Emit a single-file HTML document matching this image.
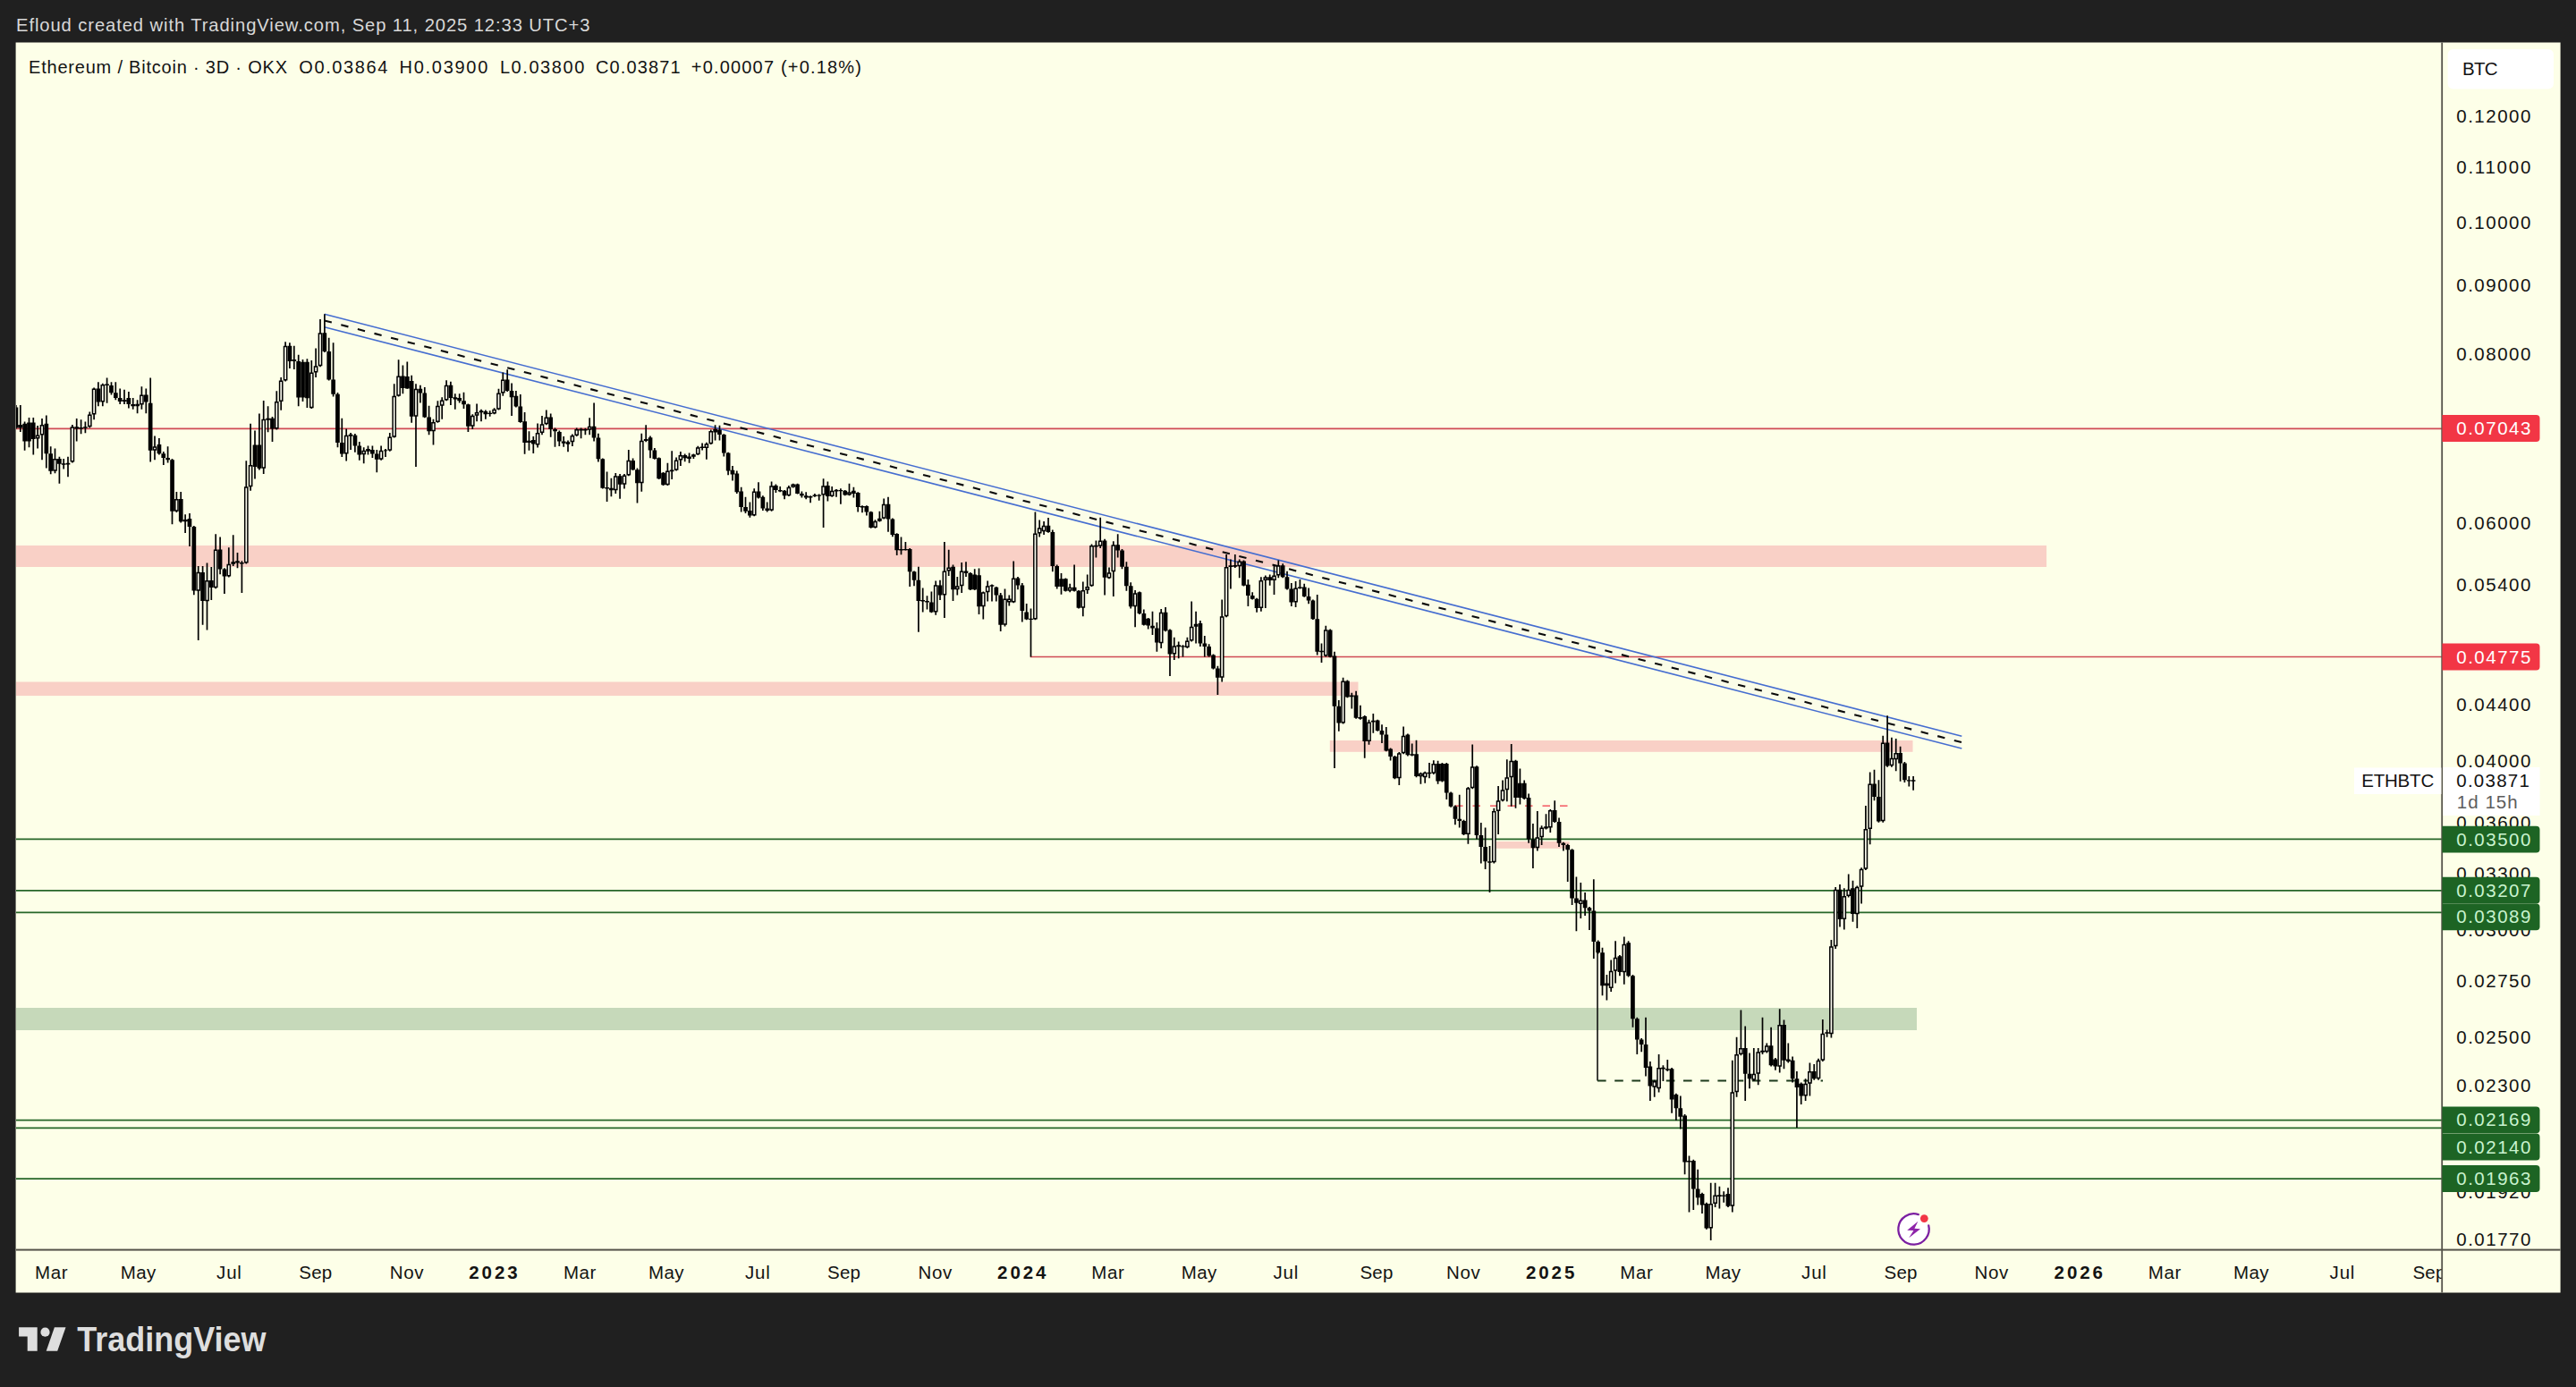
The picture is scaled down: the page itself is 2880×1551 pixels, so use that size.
<!DOCTYPE html>
<html><head><meta charset="utf-8"><title>ETHBTC chart</title>
<style>
html,body{margin:0;padding:0;background:#202020;}
body{width:2880px;height:1551px;overflow:hidden;position:relative;font-family:"Liberation Sans",sans-serif;}
svg{position:absolute;left:0;top:0;display:block}
text{font-family:"Liberation Sans",sans-serif;}
</style></head><body>
<svg width="2880" height="1551" viewBox="0 0 2880 1551">
<rect x="0" y="0" width="2880" height="1551" fill="#202020"/>
<rect x="17.6" y="47.5" width="2845" height="1398" fill="#fdffe8"/>
<defs><clipPath id="pane"><rect x="18" y="48" width="2712" height="1349.5"/></clipPath>
<clipPath id="taxis"><rect x="18" y="1398" width="2712" height="48"/></clipPath></defs>
<g clip-path="url(#pane)">
<rect x="18" y="610" width="2270" height="24" fill="#f9d0c6"/>
<rect x="18" y="762.5" width="1500.5" height="15.5" fill="#f9d0c6"/>
<rect x="1486.8" y="828" width="651.7" height="12.8" fill="#f9d0c6"/>
<rect x="1672.5" y="941" width="82.2" height="7.8" fill="#f9d0c6"/>
<rect x="18" y="1127" width="2125" height="25" fill="#c6d9ba"/>
<path d="M18 479.3H2731" stroke="#d04a54" stroke-width="1.7" fill="none"/>
<path d="M1151.8 734.5H2731" stroke="#d04a54" stroke-width="1.7" fill="none"/>
<path d="M18 938.4H2731" stroke="#266628" stroke-width="1.8" fill="none"/>
<path d="M18 995.8H2731" stroke="#266628" stroke-width="1.8" fill="none"/>
<path d="M18 1020.4H2731" stroke="#266628" stroke-width="1.8" fill="none"/>
<path d="M18 1252.6H2731" stroke="#266628" stroke-width="1.8" fill="none"/>
<path d="M18 1261.4H2731" stroke="#266628" stroke-width="1.8" fill="none"/>
<path d="M18 1318.1H2731" stroke="#266628" stroke-width="1.8" fill="none"/>
<path d="M1627 901.2H1757" stroke="#f23645" stroke-width="1.3" stroke-dasharray="8.5 11" fill="none"/>
<path d="M1786 1055.6V1208.5" stroke="#101010" stroke-width="1.6" fill="none"/>
<path d="M1786 1208.5H2038" stroke="#1c3a1c" stroke-width="1.8" stroke-dasharray="9.6 9.6" fill="none"/>
<path d="M362.7 351.3L2193.3 823.2V837L362.7 365.7Z" fill="rgba(120,140,255,0.025)"/>
<path d="M362.7 351.3L2193.3 823.2M362.7 365.7L2193.3 837" stroke="#456dd0" stroke-width="1.6" fill="none"/>
<path d="M362.7 358.5L2193.3 830.1" stroke="#0a0a0a" stroke-width="2.1" stroke-dasharray="8.4 10.8" fill="none"/>
<path d="M17.9 453.0V479.6M22.8 453.0V483.0M27.6 471.5V503.8M32.5 466.9V500.3M37.3 466.9V508.4M42.1 476.1V501.5M47.0 468.0V514.2M51.8 464.6V523.4M56.7 499.2V530.3M61.5 501.5V529.2M66.4 510.7V540.7M71.2 513.0V524.5M76.0 510.7V533.3M80.9 475.0V517.6M85.7 468.0V493.4M90.6 469.2V485.3M95.4 471.5V484.2M100.3 460.4V478.4M105.1 433.4V469.2M109.9 427.2V454.2M114.8 428.8V454.2M119.6 422.6V450.7M124.5 427.2V441.5M129.3 427.2V447.3M134.2 434.6V451.9M139.0 435.7V451.9M143.9 438.1V456.5M148.7 445.0V457.7M153.6 447.3V462.3M158.4 432.3V457.7M163.3 434.6V462.3M168.2 422.6V516.5M173.0 487.6V514.2M177.9 489.9V508.4M182.8 504.9V519.9M187.6 499.2V517.6M192.5 513.0V586.3M197.4 549.9V573.0M202.2 549.9V584.5M207.1 575.3V596.0M212.0 574.1V611.0M216.8 588.0V665.2M221.7 632.9V716.0M226.6 632.9V698.7M231.5 629.5V704.4M236.3 634.1V671.0M241.2 597.2V658.3M246.1 600.6V642.2M250.9 635.2V664.1M255.8 612.2V645.6M260.7 598.3V632.9M265.5 617.9V635.2M270.4 627.2V662.9M275.3 515.3V630.6M280.1 473.8V548.8M285.0 481.4V535.4M289.9 462.4V525.5M294.7 448.0V530.0M299.6 454.3V483.2M304.5 466.0V494.0M309.3 437.2V480.5M314.2 421.9V458.8M319.1 382.3V426.4M323.9 383.2V412.0M328.8 386.8V412.9M333.7 396.7V454.3M338.5 402.1V448.9M343.4 401.2V456.1M348.3 403.0V457.0M353.1 389.5V421.9M358.0 357.0V410.2M362.9 351.3V394.0M367.7 377.7V425.5M372.6 383.2V443.5M377.5 439.0V500.3M382.3 467.8V511.1M387.2 479.5V515.6M392.1 484.1V503.0M396.9 485.0V505.7M401.8 494.0V514.7M406.7 500.3V518.3M411.5 498.5V508.4M416.4 498.5V512.0M421.3 503.0V528.2M426.1 498.5V514.7M431.0 502.1V511.1M435.8 484.1V504.8M440.7 429.2V489.5M445.6 402.2V443.5M450.4 408.6V440.3M455.3 404.6V434.7M460.2 419.7V472.8M465.0 429.2V522.0M469.9 430.8V450.6M474.8 433.1V467.3M479.6 453.8V486.3M484.5 468.8V497.4M489.4 448.2V472.8M494.2 444.3V468.8M499.1 425.2V448.2M503.9 426.8V453.0M508.8 440.3V457.7M513.7 440.3V450.6M518.5 438.7V456.9M523.4 451.4V483.1M528.3 463.3V480.0M533.1 451.4V471.2M538.0 457.7V471.2M542.9 458.5V468.8M547.7 459.3V465.7M552.6 456.2V463.3M557.5 434.7V458.5M562.3 416.5V442.7M567.2 413.3V437.9M572.1 428.4V464.9M576.9 437.1V455.4M581.8 441.1V472.8M586.6 460.9V507.7M591.5 482.3V503.8M596.3 487.9V506.9M601.1 473.6V500.6M606.0 464.9V486.3M610.8 458.5V475.2M615.7 462.5V488.7M620.5 478.4V499.8M625.3 481.5V499.0M630.2 487.9V499.8M635.0 492.6V505.3M639.9 485.5V499.0M644.7 478.4V487.9M649.6 478.4V490.3M654.4 478.7V486.3M659.2 467.3V486.3M664.1 450.6V493.4M668.9 484.7V516.4M673.8 512.5V546.6M678.6 527.5V560.9M683.4 534.7V555.3M688.3 529.1V552.1M693.1 529.9V557.7M698.0 529.9V546.6M702.8 503.0V532.3M707.6 512.5V526.0M712.5 523.6V562.5M717.3 484.7V549.8M722.2 475.2V494.2M727.0 487.6V512.2M731.9 501.1V513.8M736.7 511.4V536.0M741.5 528.1V543.1M746.4 517.7V543.1M751.2 504.3V536.0M756.1 511.4V526.5M760.9 505.0V520.9M765.7 507.4V516.2M770.6 506.6V517.7M775.4 507.4V513.0M780.3 498.7V509.0M785.1 495.5V503.5M789.9 494.7V513.8M794.8 480.5V497.1M799.6 475.2V492.4M804.5 475.7V492.4M809.3 485.2V510.6M814.1 505.8V531.2M819.0 520.9V537.6M823.8 526.5V551.9M828.7 544.7V572.5M833.5 555.8V574.1M838.4 561.4V578.8M843.2 546.3V577.2M848.0 539.2V557.4M852.9 554.2V570.9M857.7 561.4V572.5M862.6 538.4V571.7M867.4 541.5V551.1M872.2 543.9V550.3M877.1 547.9V558.2M881.9 543.1V555.0M886.7 540.7V545.5M891.6 540.7V552.6M896.4 549.5V556.6M901.2 550.3V558.2M906.1 554.2V562.2M910.9 551.9V555.8M915.7 552.6V559.8M920.6 535.2V589.9M925.4 538.4V560.6M930.2 543.9V555.8M935.0 547.1V555.8M939.9 546.3V563.8M944.7 547.9V554.2M949.5 540.7V554.2M954.4 544.7V556.6M959.2 550.3V572.5M964.0 565.3V573.3M968.9 565.3V576.4M973.7 571.7V590.7M978.5 581.2V590.7M983.4 571.7V583.6M988.2 557.4V580.4M993.0 555.8V594.7M997.9 579.6V600.2M1002.7 596.3V620.9M1007.5 600.5V620.3M1012.4 606.0V615.5M1017.2 613.1V656.0M1022.0 638.5V655.2M1026.9 633.8V706.8M1031.7 657.6V684.5M1036.5 666.3V681.4M1041.4 661.5V685.3M1046.2 649.6V687.7M1051.0 648.8V671.1M1055.9 606.0V690.9M1060.7 614.7V644.1M1065.5 631.4V671.9M1070.3 644.9V665.5M1075.2 629.0V663.1M1080.0 628.2V644.9M1084.8 640.1V660.0M1089.7 636.2V660.0M1094.5 635.4V686.9M1099.3 661.5V692.5M1104.2 649.6V672.6M1109.0 653.6V672.6M1113.8 656.0V672.6M1118.7 663.1V706.0M1123.5 658.4V700.4M1128.3 665.5V677.4M1133.2 627.4V674.2M1138.0 644.9V659.2M1142.8 652.0V695.6M1147.7 675.0V693.3M1152.5 680.6V734.5M1157.4 572.4V693.3M1162.2 581.4V600.5M1167.1 583.0V598.1M1172.0 579.0V595.7M1176.8 592.5V639.3M1181.7 631.4V658.4M1186.5 640.9V664.7M1191.4 646.5V661.5M1196.2 652.8V662.3M1201.1 631.4V661.5M1206.0 660.0V680.6M1210.8 650.4V689.3M1215.7 642.5V663.9M1220.5 608.4V656.0M1225.4 604.4V623.5M1230.2 578.7V613.1M1235.1 602.8V665.5M1240.0 634.6V647.3M1244.8 605.2V667.1M1249.7 597.3V623.5M1254.5 613.9V636.2M1259.4 628.2V660.7M1264.2 651.2V680.6M1269.1 660.0V701.2M1274.0 661.5V686.9M1278.8 681.4V699.6M1283.7 690.9V703.6M1288.5 683.8V710.0M1293.4 695.9V728.8M1298.2 680.9V725.0M1303.1 679.1V706.3M1308.0 703.4V755.9M1312.8 712.8V738.1M1317.7 717.5V736.3M1322.5 721.3V734.4M1327.4 712.8V725.0M1332.2 672.5V717.5M1337.1 683.8V719.4M1341.9 694.1V723.1M1346.8 710.9V734.4M1351.7 720.3V734.4M1356.5 731.6V748.4M1361.4 744.7V777.1M1366.2 670.6V762.5M1371.1 620.0V690.3M1375.9 625.6V658.4M1380.8 620.0V635.0M1385.7 625.6V646.3M1390.5 626.6V655.6M1395.4 648.1V678.1M1400.2 662.2V670.6M1405.1 668.8V684.7M1409.9 645.3V683.8M1414.8 643.4V680.0M1419.7 642.5V654.7M1424.5 631.3V665.0M1429.3 626.6V646.3M1434.2 630.3V646.3M1439.0 638.8V659.4M1443.8 651.9V678.1M1448.6 650.0V679.1M1453.4 648.1V658.4M1458.2 652.8V667.8M1463.1 657.5V675.3M1467.9 670.6V693.1M1472.7 665.0V732.5M1477.5 719.4V740.9M1482.3 699.7V734.4M1487.2 703.4V735.3M1492.0 728.8V859.1M1496.8 783.1V817.8M1501.6 757.8V809.4M1506.4 760.6V780.3M1511.3 774.7V792.5M1516.1 772.8V803.8M1520.9 788.8V804.7M1525.7 800.0V847.8M1530.5 804.7V832.8M1535.3 798.1V819.7M1540.2 804.7V817.8M1545.0 810.3V831.0M1549.8 813.1V840.3M1554.6 836.6V850.6M1559.4 845.0V871.3M1564.3 841.1V877.9M1569.1 812.5V843.3M1573.9 820.5V845.4M1578.7 831.4V845.4M1583.5 827.7V869.2M1588.4 863.8V876.8M1593.2 862.7V875.7M1598.0 853.0V870.3M1602.8 850.2V866.0M1607.6 850.8V876.8M1612.4 853.0V874.6M1617.3 853.0V894.1M1622.1 885.4V902.7M1626.9 900.6V922.2M1631.7 888.7V925.5M1636.5 916.8V934.1M1641.4 880.0V943.8M1646.2 832.4V882.2M1651.0 856.2V938.4M1655.8 920.1V965.5M1660.6 925.5V972.0M1665.5 946.0V997.9M1670.3 903.8V965.5M1675.1 879.0V933.0M1680.0 872.5V896.3M1684.8 849.3V896.3M1689.7 832.0V901.7M1694.5 849.8V903.8M1699.4 859.5V899.5M1704.2 872.5V894.1M1709.1 887.6V942.8M1713.9 921.1V970.9M1718.8 907.1V951.4M1723.6 923.3V944.9M1728.5 910.3V927.6M1733.3 904.9V930.9M1738.2 895.2V920.1M1743.0 914.6V947.1M1747.9 941.7V951.4M1752.7 943.8V986.0M1757.6 949.3V1012.0M1762.4 980.6V1041.2M1767.3 987.1V1027.1M1772.1 997.9V1023.9M1777.0 1014.1V1040.1M1781.8 983.3V1072.1M1786.7 1051.5V1066.6M1791.5 1059.7V1113.2M1796.4 1089.9V1118.6M1801.2 1073.4V1109.0M1806.1 1052.3V1099.5M1810.9 1067.9V1091.2M1815.8 1047.4V1100.8M1820.6 1052.3V1092.6M1825.5 1089.9V1148.8M1830.3 1137.8V1178.9M1835.2 1161.1V1176.2M1840.0 1137.8V1203.6M1844.9 1187.1V1231.0M1849.7 1207.7V1226.8M1854.6 1178.9V1221.4M1859.4 1191.2V1209.0M1864.3 1184.9V1198.1M1869.1 1194.0V1244.7M1873.9 1222.7V1252.9M1878.8 1225.5V1262.5M1883.6 1246.0V1313.2M1888.5 1292.6V1355.6M1893.3 1296.7V1352.9M1898.2 1307.7V1347.4M1903.0 1333.7V1357.0M1907.9 1344.7V1374.8M1912.7 1322.7V1387.1M1917.6 1322.7V1350.1M1922.4 1326.8V1351.5M1927.2 1332.3V1344.7M1932.0 1328.2V1350.1M1936.8 1185.8V1355.6M1941.6 1159.7V1226.8M1946.4 1129.6V1180.3M1951.2 1147.4V1231.0M1956.0 1177.5V1217.3M1960.8 1172.1V1209.0M1965.7 1172.1V1213.2M1970.5 1137.8V1178.9M1975.3 1166.6V1177.5M1980.1 1148.8V1192.6M1984.9 1183.0V1196.7M1989.7 1128.2V1199.5M1994.5 1140.5V1195.3M1999.3 1166.6V1188.5M2004.1 1181.6V1210.4M2008.9 1198.1V1261.1M2013.7 1210.4V1235.1M2018.6 1206.3V1231.0M2023.4 1188.5V1225.5M2028.2 1189.9V1207.7M2033.0 1183.8V1207.7M2037.8 1140.0V1187.1M2042.6 1151.5V1159.7M2047.4 1051.0V1160.5M2052.2 991.9V1061.1M2057.0 989.0V1036.6M2061.8 993.3V1039.4M2066.7 977.5V1003.4M2071.5 984.7V1030.8M2076.3 990.4V1038.0M2081.1 970.3V1010.6M2085.9 901.1V973.1M2090.7 863.6V944.3M2095.5 860.7V895.3M2100.4 872.2V919.8M2105.2 822.7V919.8M2110.1 800.2V857.8M2114.9 824.7V857.8M2119.7 826.1V862.2M2124.6 834.8V873.7M2129.4 852.1V875.1M2134.3 867.9V879.5M2139.1 867.9V883.8" stroke="#000" stroke-width="1.7" fill="none"/>
<path d="M15.6 455.4h4.7V478.4h-4.7zM20.4 475.0h4.7V478.4h-4.7zM25.3 473.8h4.7V493.4h-4.7zM30.1 472.6h4.7V493.4h-4.7zM34.9 472.6h4.7V491.1h-4.7zM49.5 473.8h4.7V507.2h-4.7zM54.3 507.2h4.7V526.8h-4.7zM64.0 513.0h4.7V518.8h-4.7zM68.8 518.3h4.7V519.7h-4.7zM83.4 477.3h4.7V479.6h-4.7zM88.2 478.0h4.7V479.4h-4.7zM107.6 434.6h4.7V449.6h-4.7zM122.1 431.1h4.7V439.2h-4.7zM127.0 439.2h4.7V445.0h-4.7zM131.8 445.0h4.7V448.9h-4.7zM136.7 447.3h4.7V448.9h-4.7zM141.5 445.0h4.7V451.9h-4.7zM146.3 451.9h4.7V454.2h-4.7zM161.0 441.5h4.7V449.6h-4.7zM165.8 450.7h4.7V503.8h-4.7zM175.6 496.9h4.7V507.2h-4.7zM180.4 507.2h4.7V511.9h-4.7zM185.3 511.9h4.7V514.2h-4.7zM190.2 514.2h4.7V571.8h-4.7zM199.9 558.0h4.7V583.3h-4.7zM204.8 581.0h4.7V583.3h-4.7zM209.6 579.9h4.7V589.1h-4.7zM214.5 589.1h4.7V660.6h-4.7zM224.2 639.9h4.7V672.1h-4.7zM234.0 649.1h4.7V657.1h-4.7zM243.7 614.5h4.7V636.4h-4.7zM248.6 636.4h4.7V644.5h-4.7zM268.0 629.0h4.7V630.4h-4.7zM282.6 497.6h4.7V521.9h-4.7zM287.5 497.6h4.7V523.7h-4.7zM302.1 467.8h4.7V479.5h-4.7zM321.6 386.8h4.7V403.9h-4.7zM326.5 402.1h4.7V403.9h-4.7zM331.3 403.9h4.7V444.4h-4.7zM336.2 404.8h4.7V444.4h-4.7zM341.1 404.8h4.7V445.3h-4.7zM360.5 372.3h4.7V393.1h-4.7zM365.4 393.1h4.7V424.6h-4.7zM370.3 424.6h4.7V440.8h-4.7zM375.1 440.8h4.7V494.9h-4.7zM380.0 494.9h4.7V507.5h-4.7zM394.6 486.8h4.7V498.5h-4.7zM399.4 498.5h4.7V508.4h-4.7zM414.0 503.0h4.7V507.5h-4.7zM418.9 507.5h4.7V513.8h-4.7zM448.1 420.5h4.7V433.9h-4.7zM453.0 420.9h4.7V434.4h-4.7zM457.8 426.0h4.7V465.7h-4.7zM467.5 434.7h4.7V439.5h-4.7zM472.4 439.5h4.7V466.5h-4.7zM477.3 466.5h4.7V482.3h-4.7zM501.6 430.8h4.7V445.0h-4.7zM506.5 444.3h4.7V446.6h-4.7zM511.3 445.0h4.7V448.2h-4.7zM516.2 448.2h4.7V452.2h-4.7zM521.1 452.2h4.7V476.8h-4.7zM540.5 460.1h4.7V463.3h-4.7zM545.4 461.7h4.7V463.1h-4.7zM564.8 424.4h4.7V437.1h-4.7zM569.7 437.1h4.7V444.3h-4.7zM574.6 442.7h4.7V454.6h-4.7zM579.4 454.6h4.7V472.0h-4.7zM584.3 471.2h4.7V495.0h-4.7zM594.0 491.9h4.7V496.6h-4.7zM613.3 466.5h4.7V480.0h-4.7zM618.2 480.0h4.7V482.3h-4.7zM623.0 483.1h4.7V493.4h-4.7zM627.8 493.4h4.7V495.8h-4.7zM661.7 476.8h4.7V489.5h-4.7zM666.6 489.5h4.7V513.3h-4.7zM671.4 513.3h4.7V545.8h-4.7zM681.1 545.8h4.7V548.2h-4.7zM690.8 532.3h4.7V541.8h-4.7zM705.3 514.9h4.7V525.2h-4.7zM710.1 525.2h4.7V540.2h-4.7zM724.7 489.2h4.7V503.5h-4.7zM729.5 503.5h4.7V513.0h-4.7zM734.3 512.2h4.7V535.2h-4.7zM739.2 528.8h4.7V542.3h-4.7zM763.4 509.0h4.7V512.2h-4.7zM768.2 510.6h4.7V513.0h-4.7zM797.3 479.7h4.7V483.6h-4.7zM802.1 480.5h4.7V486.0h-4.7zM807.0 486.0h4.7V506.6h-4.7zM811.8 506.6h4.7V526.5h-4.7zM816.6 525.7h4.7V530.4h-4.7zM821.5 529.6h4.7V550.3h-4.7zM826.3 549.5h4.7V566.9h-4.7zM831.2 566.9h4.7V571.7h-4.7zM836.0 570.9h4.7V576.4h-4.7zM845.7 549.5h4.7V556.6h-4.7zM850.5 555.8h4.7V568.5h-4.7zM855.4 568.5h4.7V570.9h-4.7zM865.0 543.1h4.7V547.9h-4.7zM869.9 547.9h4.7V549.5h-4.7zM874.7 548.7h4.7V554.2h-4.7zM889.2 541.5h4.7V551.9h-4.7zM894.0 551.9h4.7V554.2h-4.7zM898.9 554.2h4.7V556.6h-4.7zM903.7 555.0h4.7V556.6h-4.7zM913.4 553.4h4.7V554.8h-4.7zM923.0 543.1h4.7V555.0h-4.7zM937.5 547.9h4.7V549.3h-4.7zM942.4 548.7h4.7V553.4h-4.7zM952.0 548.7h4.7V551.9h-4.7zM956.9 551.1h4.7V566.9h-4.7zM961.7 566.1h4.7V567.5h-4.7zM966.5 566.1h4.7V572.5h-4.7zM971.4 572.5h4.7V589.9h-4.7zM990.7 563.8h4.7V580.4h-4.7zM995.5 580.4h4.7V597.9h-4.7zM1000.3 597.1h4.7V615.3h-4.7zM1010.0 613.9h4.7V615.3h-4.7zM1014.8 613.9h4.7V639.3h-4.7zM1019.7 639.3h4.7V648.8h-4.7zM1024.5 648.8h4.7V671.9h-4.7zM1029.3 671.1h4.7V672.5h-4.7zM1034.2 671.9h4.7V673.4h-4.7zM1039.0 673.4h4.7V684.5h-4.7zM1048.7 654.4h4.7V665.5h-4.7zM1063.2 633.8h4.7V659.2h-4.7zM1077.7 638.5h4.7V640.9h-4.7zM1082.5 640.9h4.7V659.2h-4.7zM1087.3 642.5h4.7V659.2h-4.7zM1092.2 643.3h4.7V678.2h-4.7zM1111.5 656.8h4.7V665.5h-4.7zM1116.3 665.5h4.7V698.8h-4.7zM1135.6 646.5h4.7V654.4h-4.7zM1140.5 654.4h4.7V683.0h-4.7zM1145.3 684.5h4.7V692.5h-4.7zM1150.2 691.7h4.7V693.1h-4.7zM1169.6 587.8h4.7V594.9h-4.7zM1174.5 594.9h4.7V633.0h-4.7zM1179.3 633.0h4.7V656.0h-4.7zM1184.2 647.3h4.7V656.0h-4.7zM1189.0 647.3h4.7V660.7h-4.7zM1198.8 656.8h4.7V660.7h-4.7zM1203.6 660.7h4.7V679.8h-4.7zM1232.7 604.4h4.7V645.7h-4.7zM1247.3 609.2h4.7V615.5h-4.7zM1252.2 615.5h4.7V633.8h-4.7zM1257.0 633.8h4.7V655.2h-4.7zM1261.9 655.2h4.7V678.2h-4.7zM1271.6 662.3h4.7V686.1h-4.7zM1276.5 686.1h4.7V698.8h-4.7zM1281.3 691.7h4.7V699.6h-4.7zM1286.2 699.7h4.7V702.5h-4.7zM1291.0 702.5h4.7V718.4h-4.7zM1300.7 684.7h4.7V705.3h-4.7zM1305.6 704.4h4.7V731.6h-4.7zM1320.2 722.2h4.7V723.6h-4.7zM1339.6 696.9h4.7V719.4h-4.7zM1344.5 719.4h4.7V723.1h-4.7zM1349.3 723.1h4.7V733.4h-4.7zM1354.2 732.5h4.7V747.5h-4.7zM1359.0 747.5h4.7V757.8h-4.7zM1388.2 627.5h4.7V654.7h-4.7zM1393.0 653.8h4.7V665.9h-4.7zM1397.9 665.9h4.7V669.7h-4.7zM1402.7 669.7h4.7V680.0h-4.7zM1417.3 645.3h4.7V649.1h-4.7zM1431.8 632.2h4.7V645.3h-4.7zM1436.6 645.3h4.7V658.4h-4.7zM1441.4 658.4h4.7V673.4h-4.7zM1455.9 656.6h4.7V666.9h-4.7zM1460.7 666.9h4.7V671.6h-4.7zM1465.5 671.6h4.7V692.2h-4.7zM1470.4 692.2h4.7V728.8h-4.7zM1484.8 704.4h4.7V734.4h-4.7zM1489.6 733.4h4.7V789.7h-4.7zM1494.4 789.7h4.7V808.4h-4.7zM1504.1 761.6h4.7V779.4h-4.7zM1513.7 777.5h4.7V802.8h-4.7zM1518.5 801.9h4.7V803.8h-4.7zM1523.4 800.9h4.7V829.1h-4.7zM1537.8 805.6h4.7V816.9h-4.7zM1542.6 816.9h4.7V821.6h-4.7zM1547.5 821.6h4.7V839.4h-4.7zM1552.3 837.5h4.7V846.0h-4.7zM1557.1 846.0h4.7V870.3h-4.7zM1571.5 821.6h4.7V844.3h-4.7zM1576.4 843.3h4.7V844.7h-4.7zM1581.2 843.3h4.7V868.1h-4.7zM1595.6 863.8h4.7V865.2h-4.7zM1605.3 854.1h4.7V873.5h-4.7zM1610.1 854.1h4.7V873.5h-4.7zM1614.9 854.1h4.7V886.5h-4.7zM1619.7 886.5h4.7V901.7h-4.7zM1624.6 901.7h4.7V915.7h-4.7zM1629.4 915.7h4.7V917.9h-4.7zM1634.2 917.9h4.7V933.0h-4.7zM1648.6 857.3h4.7V934.1h-4.7zM1653.5 934.1h4.7V947.1h-4.7zM1658.3 947.1h4.7V963.3h-4.7zM1663.1 963.3h4.7V964.7h-4.7zM1692.2 850.8h4.7V891.9h-4.7zM1697.0 875.7h4.7V891.9h-4.7zM1701.9 875.7h4.7V893.0h-4.7zM1706.7 891.9h4.7V938.4h-4.7zM1711.6 938.4h4.7V948.2h-4.7zM1735.8 906.0h4.7V919.0h-4.7zM1740.7 919.0h4.7V942.8h-4.7zM1745.5 942.8h4.7V944.9h-4.7zM1750.4 944.9h4.7V950.3h-4.7zM1755.2 950.3h4.7V1004.4h-4.7zM1760.1 1004.4h4.7V1009.8h-4.7zM1769.8 1006.6h4.7V1015.2h-4.7zM1774.6 1015.2h4.7V1018.5h-4.7zM1779.5 1018.6h4.7V1052.9h-4.7zM1784.3 1052.9h4.7V1065.2h-4.7zM1789.2 1065.2h4.7V1102.2h-4.7zM1808.6 1069.3h4.7V1087.1h-4.7zM1818.3 1054.2h4.7V1091.2h-4.7zM1823.1 1091.2h4.7V1139.2h-4.7zM1828.0 1139.2h4.7V1162.5h-4.7zM1832.8 1162.5h4.7V1167.9h-4.7zM1837.7 1167.9h4.7V1194.0h-4.7zM1842.5 1192.6h4.7V1214.5h-4.7zM1861.9 1195.3h4.7V1196.7h-4.7zM1866.7 1195.3h4.7V1229.6h-4.7zM1871.6 1224.1h4.7V1239.2h-4.7zM1876.4 1239.2h4.7V1248.8h-4.7zM1881.3 1247.4h4.7V1299.5h-4.7zM1886.1 1298.1h4.7V1299.5h-4.7zM1891.0 1298.1h4.7V1329.6h-4.7zM1895.8 1329.6h4.7V1339.2h-4.7zM1900.7 1335.1h4.7V1347.4h-4.7zM1905.5 1346.0h4.7V1373.4h-4.7zM1924.8 1336.4h4.7V1337.8h-4.7zM1929.6 1335.1h4.7V1348.8h-4.7zM1948.9 1172.1h4.7V1200.8h-4.7zM1953.7 1200.8h4.7V1206.3h-4.7zM1977.7 1169.3h4.7V1191.2h-4.7zM1982.5 1184.4h4.7V1192.6h-4.7zM1992.2 1146.0h4.7V1185.8h-4.7zM1997.0 1184.4h4.7V1187.1h-4.7zM2001.8 1185.8h4.7V1206.3h-4.7zM2006.6 1206.3h4.7V1215.9h-4.7zM2011.4 1211.8h4.7V1225.5h-4.7zM2025.8 1198.1h4.7V1206.3h-4.7zM2054.7 994.8h4.7V1027.9h-4.7zM2069.1 993.3h4.7V1022.1h-4.7zM2093.2 876.6h4.7V891.0h-4.7zM2098.0 891.0h4.7V918.4h-4.7zM2107.7 830.4h4.7V856.4h-4.7zM2122.2 842.0h4.7V853.5h-4.7zM2127.1 853.5h4.7V872.2h-4.7zM2131.9 872.2h4.7V873.6h-4.7z" fill="#000" stroke="none"/>
<path d="M40.5 487.2h3.2V489.7h-3.2zM45.4 475.7h3.2V485.7h-3.2zM59.9 513.8h3.2V526.1h-3.2zM74.4 518.4h3.2V518.7h-3.2zM79.3 478.0h3.2V515.7h-3.2zM93.8 478.0h3.2V478.1h-3.2zM98.7 464.2h3.2V476.5h-3.2zM103.5 435.3h3.2V462.7h-3.2zM113.2 430.7h3.2V448.8h-3.2zM118.0 430.3h3.2V430.2h-3.2zM152.0 452.6h3.2V453.4h-3.2zM156.8 442.3h3.2V451.8h-3.2zM171.4 499.9h3.2V503.0h-3.2zM195.8 558.7h3.2V571.1h-3.2zM220.1 640.6h3.2V659.9h-3.2zM229.9 649.8h3.2V671.4h-3.2zM239.6 615.2h3.2V656.4h-3.2zM254.2 631.4h3.2V643.7h-3.2zM259.1 629.1h3.2V629.9h-3.2zM263.9 627.9h3.2V628.7h-3.2zM273.7 544.9h3.2V628.7h-3.2zM278.5 520.7h3.2V543.4h-3.2zM293.1 469.5h3.2V522.9h-3.2zM298.0 468.6h3.2V468.9h-3.2zM307.7 449.7h3.2V478.8h-3.2zM312.6 426.2h3.2V448.2h-3.2zM317.5 387.5h3.2V424.7h-3.2zM346.7 417.2h3.2V455.4h-3.2zM351.5 410.0h3.2V415.7h-3.2zM356.4 373.1h3.2V408.5h-3.2zM385.6 487.5h3.2V506.7h-3.2zM390.5 486.6h3.2V486.9h-3.2zM405.1 504.6h3.2V507.6h-3.2zM409.9 502.8h3.2V504.0h-3.2zM424.5 504.6h3.2V513.0h-3.2zM429.4 503.7h3.2V503.7h-3.2zM434.2 489.3h3.2V503.1h-3.2zM439.1 443.4h3.2V487.9h-3.2zM444.0 421.2h3.2V441.9h-3.2zM463.4 435.5h3.2V464.9h-3.2zM482.9 472.8h3.2V481.6h-3.2zM487.8 454.5h3.2V471.3h-3.2zM492.6 448.2h3.2V453.0h-3.2zM497.5 431.5h3.2V446.7h-3.2zM526.7 465.6h3.2V476.0h-3.2zM531.5 461.7h3.2V464.1h-3.2zM536.4 460.1h3.2V460.5h-3.2zM551.0 458.5h3.2V461.8h-3.2zM555.9 440.2h3.2V457.0h-3.2zM560.7 425.2h3.2V438.7h-3.2zM589.9 493.4h3.2V494.3h-3.2zM599.5 484.7h3.2V496.7h-3.2zM604.4 475.1h3.2V483.2h-3.2zM609.2 467.2h3.2V473.6h-3.2zM633.4 495.0h3.2V495.9h-3.2zM638.3 487.8h3.2V493.5h-3.2zM643.1 480.7h3.2V486.3h-3.2zM648.0 480.4h3.2V480.8h-3.2zM652.8 480.7h3.2V480.8h-3.2zM657.6 477.5h3.2V480.0h-3.2zM677.0 545.8h3.2V545.7h-3.2zM686.7 533.1h3.2V547.4h-3.2zM696.4 532.3h3.2V541.1h-3.2zM701.2 515.6h3.2V530.8h-3.2zM715.7 493.4h3.2V539.5h-3.2zM720.6 491.8h3.2V492.2h-3.2zM744.8 527.2h3.2V541.6h-3.2zM749.6 526.4h3.2V526.3h-3.2zM754.5 515.3h3.2V524.9h-3.2zM759.3 509.8h3.2V513.8h-3.2zM773.8 509.0h3.2V509.9h-3.2zM778.7 501.0h3.2V507.5h-3.2zM783.5 500.2h3.2V500.3h-3.2zM788.3 497.1h3.2V500.3h-3.2zM793.2 482.8h3.2V495.6h-3.2zM841.6 550.2h3.2V575.7h-3.2zM861.0 543.9h3.2V570.1h-3.2zM880.3 545.5h3.2V553.5h-3.2zM885.1 542.3h3.2V544.0h-3.2zM909.3 554.2h3.2V554.3h-3.2zM919.0 543.9h3.2V552.7h-3.2zM928.6 549.4h3.2V554.3h-3.2zM933.4 548.6h3.2V548.7h-3.2zM947.9 551.0h3.2V552.7h-3.2zM976.9 583.5h3.2V589.2h-3.2zM981.8 580.4h3.2V582.0h-3.2zM986.6 564.5h3.2V578.9h-3.2zM1005.9 614.7h3.2V614.8h-3.2zM1044.6 655.1h3.2V683.8h-3.2zM1054.3 639.3h3.2V664.8h-3.2zM1059.1 635.3h3.2V637.8h-3.2zM1068.7 655.9h3.2V658.4h-3.2zM1073.6 639.3h3.2V654.4h-3.2zM1097.7 663.1h3.2V677.4h-3.2zM1102.6 655.9h3.2V661.6h-3.2zM1107.4 655.1h3.2V655.0h-3.2zM1121.9 670.2h3.2V698.1h-3.2zM1126.7 670.2h3.2V672.7h-3.2zM1131.6 647.2h3.2V672.7h-3.2zM1155.8 597.2h3.2V691.7h-3.2zM1160.6 590.9h3.2V595.7h-3.2zM1165.5 588.5h3.2V593.4h-3.2zM1194.6 657.5h3.2V660.0h-3.2zM1209.2 660.7h3.2V679.0h-3.2zM1214.1 656.7h3.2V659.2h-3.2zM1218.9 610.7h3.2V654.4h-3.2zM1223.8 610.7h3.2V610.6h-3.2zM1228.6 605.2h3.2V610.0h-3.2zM1238.4 640.9h3.2V645.7h-3.2zM1243.2 609.9h3.2V638.6h-3.2zM1267.5 663.9h3.2V677.4h-3.2zM1296.6 685.4h3.2V718.6h-3.2zM1311.2 722.9h3.2V730.8h-3.2zM1316.1 722.0h3.2V722.4h-3.2zM1325.8 717.3h3.2V723.3h-3.2zM1330.6 701.4h3.2V715.8h-3.2zM1335.5 698.6h3.2V699.9h-3.2zM1364.6 690.1h3.2V757.1h-3.2zM1369.5 634.8h3.2V688.6h-3.2zM1374.3 632.9h3.2V633.3h-3.2zM1379.2 632.9h3.2V632.8h-3.2zM1384.1 628.3h3.2V632.4h-3.2zM1408.3 649.8h3.2V679.3h-3.2zM1413.2 646.1h3.2V648.3h-3.2zM1422.9 644.2h3.2V648.3h-3.2zM1427.7 632.9h3.2V642.7h-3.2zM1447.0 658.3h3.2V672.7h-3.2zM1451.8 657.3h3.2V657.2h-3.2zM1475.9 728.6h3.2V728.5h-3.2zM1480.7 705.1h3.2V732.7h-3.2zM1500.0 762.3h3.2V807.7h-3.2zM1509.7 778.3h3.2V778.6h-3.2zM1528.9 808.3h3.2V828.3h-3.2zM1533.7 806.4h3.2V806.8h-3.2zM1562.7 842.9h3.2V869.6h-3.2zM1567.5 823.5h3.2V841.4h-3.2zM1586.8 865.6h3.2V867.4h-3.2zM1591.6 864.6h3.2V868.5h-3.2zM1601.2 854.8h3.2V864.1h-3.2zM1639.8 881.9h3.2V932.3h-3.2zM1644.6 858.1h3.2V880.4h-3.2zM1668.7 907.8h3.2V963.6h-3.2zM1673.5 895.9h3.2V906.3h-3.2zM1678.4 884.0h3.2V894.4h-3.2zM1683.2 870.0h3.2V882.5h-3.2zM1688.1 851.6h3.2V868.5h-3.2zM1717.2 937.0h3.2V947.4h-3.2zM1722.0 926.2h3.2V935.5h-3.2zM1726.9 925.1h3.2V925.8h-3.2zM1731.7 906.7h3.2V924.7h-3.2zM1765.7 1007.3h3.2V1010.2h-3.2zM1794.8 1100.2h3.2V1101.4h-3.2zM1799.6 1086.5h3.2V1104.2h-3.2zM1804.5 1071.4h3.2V1085.0h-3.2zM1814.2 1056.4h3.2V1086.4h-3.2zM1848.1 1209.8h3.2V1215.1h-3.2zM1853.0 1194.7h3.2V1216.5h-3.2zM1857.8 1194.7h3.2V1194.6h-3.2zM1911.1 1346.8h3.2V1372.7h-3.2zM1916.0 1337.2h3.2V1345.3h-3.2zM1920.8 1337.2h3.2V1337.1h-3.2zM1935.2 1222.1h3.2V1348.0h-3.2zM1940.0 1179.7h3.2V1220.6h-3.2zM1944.8 1172.8h3.2V1178.2h-3.2zM1959.2 1201.6h3.2V1206.9h-3.2zM1964.1 1176.9h3.2V1200.1h-3.2zM1968.9 1175.5h3.2V1176.0h-3.2zM1973.7 1170.1h3.2V1175.4h-3.2zM1988.1 1146.8h3.2V1191.9h-3.2zM2017.0 1212.5h3.2V1224.7h-3.2zM2021.8 1198.8h3.2V1211.0h-3.2zM2031.4 1186.5h3.2V1205.6h-3.2zM2036.2 1156.4h3.2V1185.0h-3.2zM2041.0 1155.0h3.2V1154.9h-3.2zM2045.8 1058.9h3.2V1155.4h-3.2zM2050.6 995.5h3.2V1057.4h-3.2zM2060.2 1002.7h3.2V1027.2h-3.2zM2065.1 995.5h3.2V1001.2h-3.2zM2074.7 992.6h3.2V1021.4h-3.2zM2079.5 972.4h3.2V991.1h-3.2zM2084.3 927.8h3.2V970.9h-3.2zM2089.1 877.3h3.2V926.3h-3.2zM2103.6 831.2h3.2V917.6h-3.2zM2113.3 848.5h3.2V855.6h-3.2zM2118.1 842.7h3.2V848.4h-3.2zM2137.5 873.0h3.2V872.9h-3.2z" fill="#fffff2" stroke="#000" stroke-width="1.5"/>
<circle cx="2139.5" cy="1374.5" r="16.2" fill="#ffffff"/>
<path d="M2156.2 1370.3A17.2 17.2 0 1 1 2144.8 1358.1" stroke="#7b1fa2" stroke-width="2.3" fill="none" stroke-linecap="round"/>
<path d="M2144.4 1365.8L2132.2 1375.7L2139.4 1376L2134.2 1384.2L2147 1374.3L2140.4 1373.8Z" fill="#8e24aa"/>
<circle cx="2151.3" cy="1362.6" r="4.4" fill="#f23645"/>
</g>
<text x="18.0" y="35.4" font-size="20.2" fill="#d8d8d8" textLength="641.5" lengthAdjust="spacing">Efloud created with TradingView.com, Sep 11, 2025 12:33 UTC+3</text>
<text x="32.0" y="81.8" font-size="20" fill="#131313" textLength="289.0" lengthAdjust="spacing">Ethereum / Bitcoin · 3D · OKX</text>
<text x="334.3" y="81.8" font-size="20" fill="#131313" textLength="99.1" lengthAdjust="spacing">O0.03864</text>
<text x="446.6" y="81.8" font-size="20" fill="#131313" textLength="98.7" lengthAdjust="spacing">H0.03900</text>
<text x="558.9" y="81.8" font-size="20" fill="#131313" textLength="94.4" lengthAdjust="spacing">L0.03800</text>
<text x="666.0" y="81.8" font-size="20" fill="#131313" textLength="94.5" lengthAdjust="spacing">C0.03871</text>
<text x="772.8" y="81.8" font-size="20" fill="#131313" textLength="190.1" lengthAdjust="spacing">+0.00007 (+0.18%)</text>
<rect x="18" y="1396.6" width="2844.5" height="2" fill="#55534a"/>
<g clip-path="url(#taxis)">
<text x="39.0" y="1430.0" font-size="20.5" fill="#131313" textLength="36.5" lengthAdjust="spacing">Mar</text>
<text x="134.8" y="1430.0" font-size="20.5" fill="#131313" textLength="39.5" lengthAdjust="spacing">May</text>
<text x="242.1" y="1430.0" font-size="20.5" fill="#131313" textLength="27.8" lengthAdjust="spacing">Jul</text>
<text x="334.2" y="1430.0" font-size="20.5" fill="#131313" textLength="37.0" lengthAdjust="spacing">Sep</text>
<text x="435.8" y="1430.0" font-size="20.5" fill="#131313" textLength="37.8" lengthAdjust="spacing">Nov</text>
<text x="524.3" y="1430.0" font-size="20.5" fill="#131313" textLength="54.3" lengthAdjust="spacing" font-weight="bold">2023</text>
<text x="629.9" y="1430.0" font-size="20.5" fill="#131313" textLength="36.5" lengthAdjust="spacing">Mar</text>
<text x="725.0" y="1430.0" font-size="20.5" fill="#131313" textLength="39.5" lengthAdjust="spacing">May</text>
<text x="832.9" y="1430.0" font-size="20.5" fill="#131313" textLength="27.8" lengthAdjust="spacing">Jul</text>
<text x="925.0" y="1430.0" font-size="20.5" fill="#131313" textLength="37.0" lengthAdjust="spacing">Sep</text>
<text x="1026.4" y="1430.0" font-size="20.5" fill="#131313" textLength="37.8" lengthAdjust="spacing">Nov</text>
<text x="1115.1" y="1430.0" font-size="20.5" fill="#131313" textLength="54.3" lengthAdjust="spacing" font-weight="bold">2024</text>
<text x="1220.3" y="1430.0" font-size="20.5" fill="#131313" textLength="36.5" lengthAdjust="spacing">Mar</text>
<text x="1320.7" y="1430.0" font-size="20.5" fill="#131313" textLength="39.5" lengthAdjust="spacing">May</text>
<text x="1423.5" y="1430.0" font-size="20.5" fill="#131313" textLength="27.8" lengthAdjust="spacing">Jul</text>
<text x="1520.4" y="1430.0" font-size="20.5" fill="#131313" textLength="37.0" lengthAdjust="spacing">Sep</text>
<text x="1617.0" y="1430.0" font-size="20.5" fill="#131313" textLength="37.8" lengthAdjust="spacing">Nov</text>
<text x="1706.0" y="1430.0" font-size="20.5" fill="#131313" textLength="54.3" lengthAdjust="spacing" font-weight="bold">2025</text>
<text x="1811.3" y="1430.0" font-size="20.5" fill="#131313" textLength="36.5" lengthAdjust="spacing">Mar</text>
<text x="1906.5" y="1430.0" font-size="20.5" fill="#131313" textLength="39.5" lengthAdjust="spacing">May</text>
<text x="2014.1" y="1430.0" font-size="20.5" fill="#131313" textLength="27.8" lengthAdjust="spacing">Jul</text>
<text x="2106.5" y="1430.0" font-size="20.5" fill="#131313" textLength="37.0" lengthAdjust="spacing">Sep</text>
<text x="2207.5" y="1430.0" font-size="20.5" fill="#131313" textLength="37.8" lengthAdjust="spacing">Nov</text>
<text x="2296.6" y="1430.0" font-size="20.5" fill="#131313" textLength="54.3" lengthAdjust="spacing" font-weight="bold">2026</text>
<text x="2401.8" y="1430.0" font-size="20.5" fill="#131313" textLength="36.5" lengthAdjust="spacing">Mar</text>
<text x="2497.1" y="1430.0" font-size="20.5" fill="#131313" textLength="39.5" lengthAdjust="spacing">May</text>
<text x="2604.6" y="1430.0" font-size="20.5" fill="#131313" textLength="27.8" lengthAdjust="spacing">Jul</text>
<text x="2697.4" y="1430.0" font-size="20.5" fill="#131313" textLength="37.0" lengthAdjust="spacing">Sep</text>
</g>
<rect x="2729.3" y="47.5" width="1.8" height="1398" fill="#55534a"/>
<text x="2746.3" y="136.6" font-size="20.5" fill="#131313" textLength="83.0" lengthAdjust="spacing">0.12000</text>
<text x="2746.3" y="193.7" font-size="20.5" fill="#131313" textLength="83.0" lengthAdjust="spacing">0.11000</text>
<text x="2746.3" y="256.3" font-size="20.5" fill="#131313" textLength="83.0" lengthAdjust="spacing">0.10000</text>
<text x="2746.3" y="325.5" font-size="20.5" fill="#131313" textLength="83.0" lengthAdjust="spacing">0.09000</text>
<text x="2746.3" y="402.8" font-size="20.5" fill="#131313" textLength="83.0" lengthAdjust="spacing">0.08000</text>
<text x="2746.3" y="591.7" font-size="20.5" fill="#131313" textLength="83.0" lengthAdjust="spacing">0.06000</text>
<text x="2746.3" y="660.9" font-size="20.5" fill="#131313" textLength="83.0" lengthAdjust="spacing">0.05400</text>
<text x="2746.3" y="795.4" font-size="20.5" fill="#131313" textLength="83.0" lengthAdjust="spacing">0.04400</text>
<text x="2746.3" y="857.9" font-size="20.5" fill="#131313" textLength="83.0" lengthAdjust="spacing">0.04000</text>
<text x="2746.3" y="927.1" font-size="20.5" fill="#131313" textLength="83.0" lengthAdjust="spacing">0.03600</text>
<text x="2746.3" y="984.3" font-size="20.5" fill="#131313" textLength="83.0" lengthAdjust="spacing">0.03300</text>
<text x="2746.3" y="1046.8" font-size="20.5" fill="#131313" textLength="83.0" lengthAdjust="spacing">0.03000</text>
<text x="2746.3" y="1104.0" font-size="20.5" fill="#131313" textLength="83.0" lengthAdjust="spacing">0.02750</text>
<text x="2746.3" y="1166.6" font-size="20.5" fill="#131313" textLength="83.0" lengthAdjust="spacing">0.02500</text>
<text x="2746.3" y="1221.3" font-size="20.5" fill="#131313" textLength="83.0" lengthAdjust="spacing">0.02300</text>
<text x="2746.3" y="1339.9" font-size="20.5" fill="#131313" textLength="83.0" lengthAdjust="spacing">0.01920</text>
<text x="2746.3" y="1393.3" font-size="20.5" fill="#131313" textLength="83.0" lengthAdjust="spacing">0.01770</text>
<rect x="2736.6" y="55" width="118.4" height="44.5" rx="6" fill="#ffffff"/>
<text x="2753.0" y="83.9" font-size="20.5" fill="#131313" textLength="39.5" lengthAdjust="spacing">BTC</text>
<rect x="2731.5" y="858" width="108" height="54" fill="#ffffff"/>
<text x="2746.3" y="879.8" font-size="20.5" fill="#131313" textLength="81.5" lengthAdjust="spacing">0.03871</text>
<text x="2746.7" y="903.9" font-size="20.5" fill="#5d5d5d" textLength="68.0" lengthAdjust="spacing">1d 15h</text>
<rect x="2632" y="858.5" width="97.4" height="29.5" fill="#ffffff"/>
<text x="2640.2" y="879.7" font-size="20.5" fill="#131313" textLength="81.0" lengthAdjust="spacing">ETHBTC</text>
<path d="M2730.4 464.1H2835.5a4 4 0 0 1 4 4V490.0a4 4 0 0 1 -4 4H2730.4Z" fill="#f23645"/>
<text x="2746.3" y="486.1" font-size="20.5" fill="#ffffff" textLength="83.0" lengthAdjust="spacing">0.07043</text>
<path d="M2730.4 719.5H2835.5a4 4 0 0 1 4 4V745.4a4 4 0 0 1 -4 4H2730.4Z" fill="#f23645"/>
<text x="2746.3" y="741.5" font-size="20.5" fill="#ffffff" textLength="83.0" lengthAdjust="spacing">0.04775</text>
<path d="M2730.4 923.7H2835.5a4 4 0 0 1 4 4V949.6a4 4 0 0 1 -4 4H2730.4Z" fill="#1d6424"/>
<text x="2746.3" y="945.7" font-size="20.5" fill="#c9f3cf" textLength="83.0" lengthAdjust="spacing">0.03500</text>
<path d="M2730.4 980.7H2835.5a4 4 0 0 1 4 4V1006.6a4 4 0 0 1 -4 4H2730.4Z" fill="#1d6424"/>
<text x="2746.3" y="1002.7" font-size="20.5" fill="#c9f3cf" textLength="83.0" lengthAdjust="spacing">0.03207</text>
<path d="M2730.4 1010.4H2835.5a4 4 0 0 1 4 4V1036.3a4 4 0 0 1 -4 4H2730.4Z" fill="#1d6424"/>
<text x="2746.3" y="1032.4" font-size="20.5" fill="#c9f3cf" textLength="83.0" lengthAdjust="spacing">0.03089</text>
<path d="M2730.4 1237.4H2835.5a4 4 0 0 1 4 4V1263.3a4 4 0 0 1 -4 4H2730.4Z" fill="#1d6424"/>
<text x="2746.3" y="1259.4" font-size="20.5" fill="#c9f3cf" textLength="83.0" lengthAdjust="spacing">0.02169</text>
<path d="M2730.4 1267.5H2835.5a4 4 0 0 1 4 4V1293.4a4 4 0 0 1 -4 4H2730.4Z" fill="#1d6424"/>
<text x="2746.3" y="1289.5" font-size="20.5" fill="#c9f3cf" textLength="83.0" lengthAdjust="spacing">0.02140</text>
<path d="M2730.4 1303.0H2835.5a4 4 0 0 1 4 4V1328.9a4 4 0 0 1 -4 4H2730.4Z" fill="#1d6424"/>
<text x="2746.3" y="1325.0" font-size="20.5" fill="#c9f3cf" textLength="83.0" lengthAdjust="spacing">0.01963</text>
<path d="M21.1 1484.3H41.7V1510.8H30.7V1494.6H21.1Z" fill="#dedede"/>
<circle cx="50.5" cy="1489.7" r="5.1" fill="#dedede"/>
<path d="M60.9 1484.3H73.5L64.2 1510.8H51.7Z" fill="#dedede"/>
<text x="86.3" y="1510.8" font-size="38.4" fill="#dedede" textLength="211.3" lengthAdjust="spacingAndGlyphs" font-weight="bold">TradingView</text>
</svg></body></html>
